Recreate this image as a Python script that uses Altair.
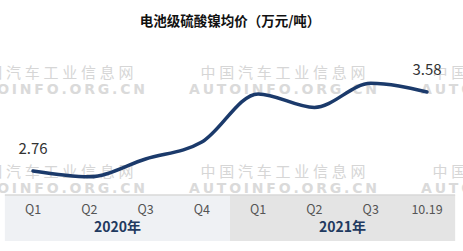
import altair as alt
import pandas as pd

# Battery-grade nickel sulfate average price, 10k yuan per tonne
periods = ["Q1", "Q2", "Q3", "Q4", "Q1", "Q2", "Q3", "10.19"]
years = ["2020年", "2020年", "2020年", "2020年", "2021年", "2021年", "2021年", "2021年"]
prices = [2.76, 2.70, 2.885, 3.06, 3.56, 3.42, 3.67, 3.58]
title_text = "电池级硫酸镍均价（万元/吨）"
wm_cn = "\u2005".join("中国汽车工业信息网")
wm_en = "\u2009".join("AUTOINFO.ORG.CN")

W, H = 463, 251
FONT = "Noto Sans CJK SC"
NAVY = "#1b3a6b"

df = pd.DataFrame({
    "idx": list(range(len(periods))),
    "period": periods,
    "year": years,
    "price": prices,
})
df["label"] = [f"{p:.2f}" if i in (0, len(prices) - 1) else "" for i, p in enumerate(prices)]

year_names = ["2020年", "2021年"]
bands = pd.DataFrame({
    "year": year_names,
    "start": [df[df.year == y].idx.min() - 0.5 for y in year_names],
    "end": [df[df.year == y].idx.max() + 0.5 for y in year_names],
    "mid": [df[df.year == y].idx.mean() for y in year_names],
})

x_scale = alt.Scale(domain=[0, len(periods) - 1], range=[33, 427], nice=False, zero=False)
y_scale = alt.Scale(domain=[2.76, 3.58], range=[171, 92], nice=False, zero=False)
X = lambda f: alt.X(f, type="quantitative", scale=x_scale, axis=None)

# watermark grid
wm_layers = []
for cx in (51, 283, 515):
    for cy in (73, 172):
        wm_layers.append(
            alt.Chart(pd.DataFrame({"t": [wm_cn]})).mark_text(
                font=FONT, fontSize=15, color="#d6d6d6", align="center", baseline="middle"
            ).encode(x=alt.value(cx), y=alt.value(cy), text="t:N")
        )
        wm_layers.append(
            alt.Chart(pd.DataFrame({"t": [wm_en]})).mark_text(
                font="DejaVu Sans", fontWeight="bold", fontSize=14, color="#dadada",
                align="center", baseline="middle"
            ).encode(x=alt.value(cx), y=alt.value(cy + 17), text="t:N")
        )

band_rects = alt.Chart(bands).mark_rect().encode(
    x=X("start"), x2="end",
    y=alt.value(195), y2=alt.value(241),
    color=alt.Color("year:N", scale=alt.Scale(domain=year_names, range=["#eff1f4", "#e4e4e4"]), legend=None),
)

band_top = alt.Chart(bands).mark_rule(color="#d8d8d8", strokeWidth=1.5).encode(
    x=X("start"), x2="end", y=alt.value(195)
)

tick_labels = alt.Chart(df).mark_text(
    font=FONT, fontSize=12.5, color="#555555", baseline="middle"
).encode(x=X("idx"), y=alt.value(210), text="period:N")

year_labels = alt.Chart(bands).mark_text(
    font=FONT, fontSize=14, fontWeight="bold", color="#1f3a60", baseline="middle"
).encode(x=X("mid"), y=alt.value(228), text="year:N")

line = alt.Chart(df).mark_line(
    color=NAVY, strokeWidth=3.5, interpolate="monotone", strokeCap="round"
).encode(x=X("idx"), y=alt.Y("price:Q", scale=y_scale, axis=None))

value_labels = alt.Chart(df).mark_text(
    font=FONT, fontSize=15, color="#333333", dy=-22, baseline="middle"
).encode(x=X("idx"), y=alt.Y("price:Q", scale=y_scale, axis=None), text="label:N")

title = alt.Chart(pd.DataFrame({"t": [title_text]})).mark_text(
    font=FONT, fontSize=13.5, fontWeight="bold", color="#111111", baseline="middle"
).encode(x=alt.value(230), y=alt.value(22), text="t:N")

chart = alt.layer(
    *wm_layers, band_rects, band_top, tick_labels, year_labels, line, value_labels, title
).properties(
    width=W, height=H, autosize=alt.AutoSizeParams(type="none"), padding=0, background="white"
).configure_view(stroke=None)

chart.save("out.html", embed_options={"renderer": "svg", "actions": False})
